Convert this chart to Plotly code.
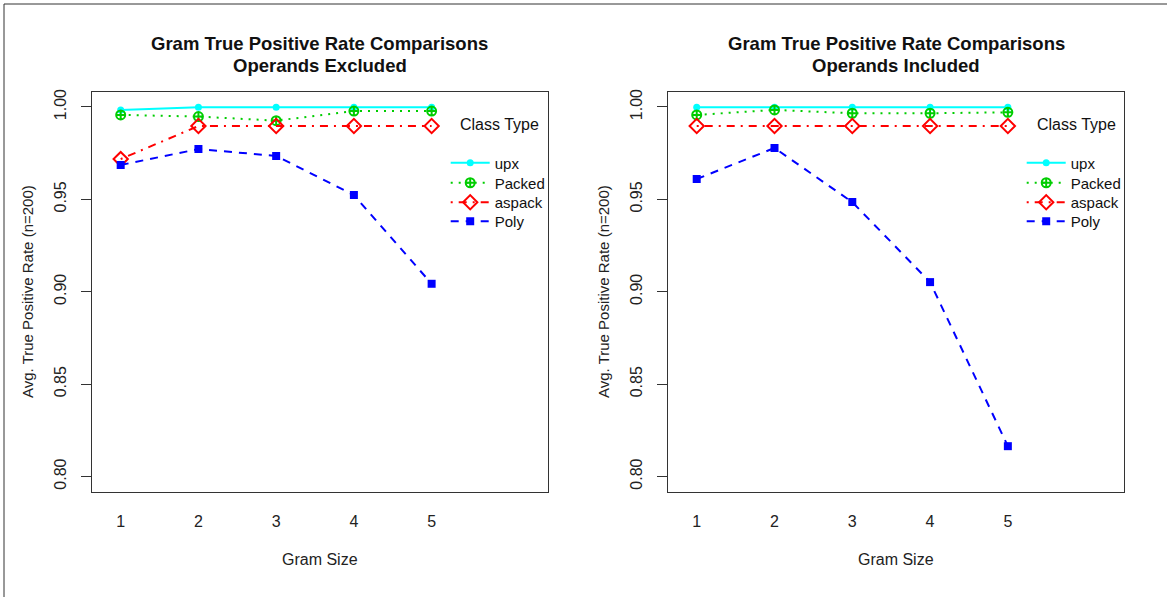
import plotly.graph_objects as go

gram_sizes = [1, 2, 3, 4, 5]
series_names = ["upx", "Packed", "aspack", "Poly"]

# Operands Excluded
excl_upx = [0.9984, 0.9998, 0.9998, 0.9998, 0.9998]
excl_packed = [0.9957, 0.9948, 0.9926, 0.9978, 0.9978]
excl_aspack = [0.9718, 0.9897, 0.9897, 0.9897, 0.9897]
excl_poly = [0.9686, 0.9772, 0.9735, 0.9523, 0.9043]

# Operands Included
incl_upx = [0.9998, 0.9998, 0.9998, 0.9998, 0.9998]
incl_packed = [0.9957, 0.9984, 0.9966, 0.9966, 0.9971]
incl_aspack = [0.9897, 0.9897, 0.9897, 0.9897, 0.9897]
incl_poly = [0.9610, 0.9778, 0.9485, 0.9052, 0.8164]

y_ticks = [0.80, 0.85, 0.90, 0.95, 1.00]

W, H = 1167, 597
FONT = "Liberation Sans, Arial, sans-serif"

styles = {
    "upx": dict(color="#00FFFF", dash="solid", symbol="circle", size=7, mlw=0),
    "Packed": dict(color="#00CD00", dash="2px,6px", symbol="circle-cross-open", size=9, mlw=2),
    "aspack": dict(color="#FF0000", dash="2px,6px,8px,6px", symbol="diamond-open", size=11, mlw=2),
    "Poly": dict(color="#0000FF", dash="8px,7px", symbol="square", size=8, mlw=0),
}


def px_x(v):
    return v / W


def px_y(v):
    return 1 - v / H


legend_rows_px = [163, 183, 202.5, 221.5]

fig = go.Figure()

panels = [
    ("x", "y", 445.7, [excl_upx, excl_packed, excl_aspack, excl_poly]),
    ("x2", "y2", 1021.7, [incl_upx, incl_packed, incl_aspack, incl_poly]),
]
legend_layouts = {}
leg_idx = 0
for xa, ya, leg_x, data in panels:
    for i, (name, vals) in enumerate(zip(series_names, data)):
        s = styles[name]
        leg_idx += 1
        leg_name = "legend" if leg_idx == 1 else f"legend{leg_idx}"
        fig.add_trace(go.Scatter(
            x=gram_sizes, y=vals, name=name, mode="lines+markers",
            xaxis=xa, yaxis=ya, legend=leg_name, showlegend=True,
            line=dict(color=s["color"], width=2, dash=s["dash"]),
            marker=dict(symbol=s["symbol"], size=s["size"], color=s["color"],
                        line=dict(color=s["color"], width=s["mlw"])),
        ))
        legend_layouts[leg_name] = dict(
            x=px_x(leg_x), y=px_y(legend_rows_px[i]), xanchor="left", yanchor="middle",
            font=dict(family=FONT, size=15, color="#111"), bgcolor="rgba(0,0,0,0)",
            borderwidth=0, itemwidth=39, visible=True,
        )

dom_left = [px_x(91.7), px_x(548)]
dom_right = [px_x(667.7), px_x(1124.3)]
dom_y = [px_y(492), px_y(92)]

xcommon = dict(range=[0.627, 6.497], tickvals=gram_sizes, ticks="", showgrid=False,
               zeroline=False, showline=True, mirror=True, linecolor="#333333", linewidth=1,
               tickfont=dict(family=FONT, size=16, color="#222"), ticklabelstandoff=15,
               automargin=False)
ycommon = dict(range=[0.7916, 1.0081], tickvals=y_ticks, tickformat=".2f", ticks="outside",
               ticklen=10, tickcolor="#333333", showgrid=False, zeroline=False, showline=True,
               mirror=True, linecolor="#333333", linewidth=1, tickangle=-90,
               tickfont=dict(family=FONT, size=16, color="#222"), ticklabelstandoff=8,
               automargin=False)

fig.update_layout(
    width=W, height=H, margin=dict(l=0, r=0, t=0, b=0),
    paper_bgcolor="white", plot_bgcolor="white", showlegend=True,
    xaxis=dict(domain=dom_left, anchor="y", **xcommon),
    yaxis=dict(domain=dom_y, anchor="x", **ycommon),
    xaxis2=dict(domain=dom_right, anchor="y2", **xcommon),
    yaxis2=dict(domain=dom_y, anchor="x2", **ycommon),
    font=dict(family=FONT),
    **legend_layouts,
)

annotations = []
for (d0, d1), sub in [(dom_left, "Operands Excluded"), (dom_right, "Operands Included")]:
    cx = (d0 + d1) / 2
    annotations.append(dict(x=cx, y=px_y(43), xref="paper", yref="paper", showarrow=False,
                            text="<b>Gram True Positive Rate Comparisons</b>",
                            font=dict(family=FONT, size=18.5, color="#111"),
                            xanchor="center", yanchor="middle"))
    annotations.append(dict(x=cx, y=px_y(65), xref="paper", yref="paper", showarrow=False,
                            text="<b>" + sub + "</b>",
                            font=dict(family=FONT, size=18.5, color="#111"),
                            xanchor="center", yanchor="middle"))
    annotations.append(dict(x=cx, y=px_y(559), xref="paper", yref="paper", showarrow=False,
                            text="Gram Size", font=dict(family=FONT, size=16, color="#222"),
                            xanchor="center", yanchor="middle"))
for xlab, cxl in [(27, 499), (603, 1076)]:
    annotations.append(dict(x=px_x(xlab), y=px_y(292), xref="paper", yref="paper",
                            showarrow=False, text="Avg. True Positive Rate (n=200)", textangle=-90,
                            font=dict(family=FONT, size=15, color="#222"),
                            xanchor="center", yanchor="middle"))
    annotations.append(dict(x=px_x(cxl), y=px_y(125), xref="paper", yref="paper",
                            showarrow=False, text="Class Type",
                            font=dict(family=FONT, size=16, color="#111"),
                            xanchor="center", yanchor="middle"))
fig.update_layout(annotations=annotations)

fig.update_layout(shapes=[
    dict(type="line", xref="paper", yref="paper", x0=px_x(4), x1=px_x(4), y0=0, y1=px_y(4),
         line=dict(color="#333333", width=1)),
    dict(type="line", xref="paper", yref="paper", x0=px_x(4), x1=1, y0=px_y(4), y1=px_y(4),
         line=dict(color="#333333", width=1)),
])

fig.write_html("out.html")
